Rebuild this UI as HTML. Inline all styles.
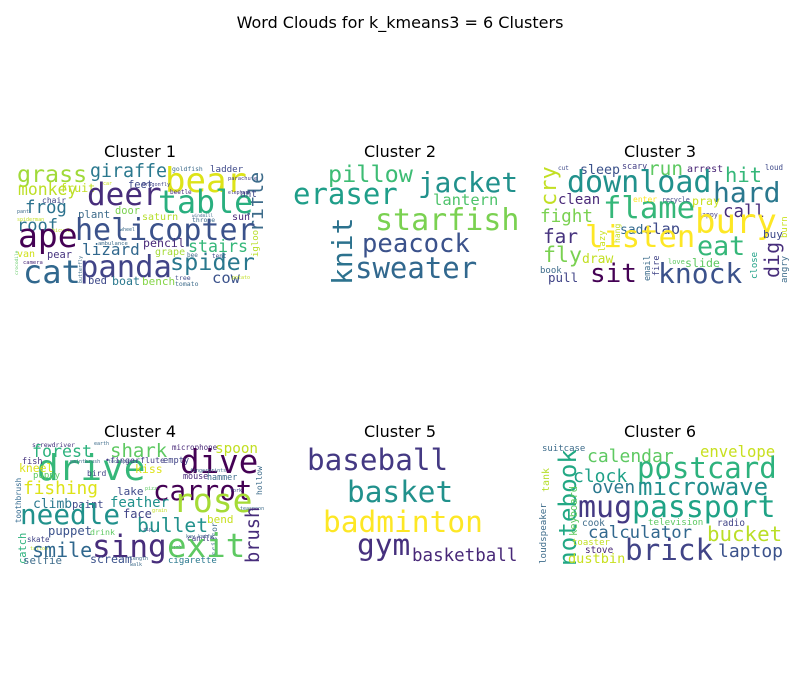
<!DOCTYPE html>
<html><head><meta charset="utf-8"><style>
html,body{margin:0;padding:0;background:#fff;}
svg{display:block;}
.t{font-family:"DejaVu Sans","Liberation Sans",sans-serif;font-size:16px;fill:#000;text-anchor:middle;}
.w text{font-family:"DejaVu Sans Mono","Liberation Mono",monospace;}
</style></head><body>
<svg width="800" height="700" viewBox="0 0 800 700">
<rect width="800" height="700" fill="#fff"/>
<text class="t" x="400" y="28">Word Clouds for k_kmeans3 = 6 Clusters</text>
<text class="t" x="140" y="157">Cluster 1</text>
<text class="t" x="400" y="157">Cluster 2</text>
<text class="t" x="660" y="157">Cluster 3</text>
<text class="t" x="140" y="437">Cluster 4</text>
<text class="t" x="400" y="437">Cluster 5</text>
<text class="t" x="660" y="437">Cluster 6</text>

<g class="w">
<text x="17" y="182" font-size="23.3" fill="#a0da39">grass</text>
<text x="90" y="177" font-size="18.3" fill="#2a788e">giraffe</text>
<text x="165" y="192" font-size="34" fill="#dde318">bear</text>
<text x="172" y="171" font-size="6.4" fill="#3e6c8b">goldfish</text>
<text x="210" y="172" font-size="9.2" fill="#3e4989">ladder</text>
<text x="228" y="180" font-size="5.4" fill="#433e85">parachute</text>
<text transform="translate(263,232) rotate(-90)" font-size="20" fill="#3e6c8b">rifle</text>
<text x="60" y="192" font-size="11.7" fill="#c2df23">fruit</text>
<text x="128" y="188" font-size="10.4" fill="#3e4989">feet</text>
<text x="142" y="186" font-size="5.2" fill="#414487">dragonfly</text>
<text x="103" y="185" font-size="5" fill="#c8e020">car</text>
<text x="18" y="195" font-size="16.4" fill="#bddf26">monkey</text>
<text x="87" y="205" font-size="31" fill="#472d7b">deer</text>
<text x="158" y="213" font-size="31.6" fill="#29af7f">table</text>
<text x="240" y="197" font-size="9.4" fill="#3e4989">ant</text>
<text x="170" y="194" font-size="6" fill="#482878">beetle</text>
<text x="228" y="194" font-size="4.8" fill="#433e85">elephant</text>
<text x="42" y="203" font-size="8" fill="#414487">chair</text>
<text x="25" y="213" font-size="17.4" fill="#2c728e">frog</text>
<text x="78" y="218" font-size="10.7" fill="#3e6c8b">plant</text>
<text x="115" y="214" font-size="10.4" fill="#7ad151">door</text>
<text x="142" y="220" font-size="10" fill="#b5de2b">saturn</text>
<text x="17" y="213" font-size="5" fill="#3e6c8b">pant</text>
<text x="17" y="231" font-size="17" fill="#2c728e">roof</text>
<text x="17" y="221" font-size="5" fill="#c2df23">spiderman</text>
<text x="192" y="217" font-size="4.4" fill="#3e6c8b">windmill</text>
<text x="232" y="220" font-size="10" fill="#482878">sun</text>
<text x="192" y="222" font-size="6.4" fill="#3e6c8b">throne</text>
<text x="75" y="240" font-size="30" fill="#3b528b">helicopter</text>
<text x="52" y="232" font-size="5" fill="#c8e020">bicycle</text>
<text x="120" y="231" font-size="5" fill="#3e6c8b">wheel</text>
<text x="18" y="247" font-size="33" fill="#440154">ape</text>
<text transform="translate(258,257) rotate(-90)" font-size="9" fill="#b8de29">igloo</text>
<text x="98" y="245" font-size="5.5" fill="#3e6c8b">ambulance</text>
<text x="143" y="247" font-size="11.6" fill="#482878">pencil</text>
<text x="82" y="255" font-size="16" fill="#31688e">lizard</text>
<text x="188" y="252" font-size="16.6" fill="#35b779">stairs</text>
<text x="155" y="255" font-size="10" fill="#a5db36">grape</text>
<text x="17" y="257" font-size="10" fill="#d0e11c">van</text>
<text x="47" y="258" font-size="10.4" fill="#46337e">pear</text>
<text x="187" y="257" font-size="6" fill="#3e6c8b">bee</text>
<text x="212" y="258" font-size="6" fill="#3e4989">tent</text>
<text x="23" y="264" font-size="5.5" fill="#482878">camera</text>
<text transform="translate(18,275) rotate(-90)" font-size="4.5" fill="#5ec962">crocodile</text>
<text transform="translate(82,283) rotate(-90)" font-size="5" fill="#3e6c8b">butterfly</text>
<text x="23" y="283" font-size="32" fill="#31688e">cat</text>
<text x="80" y="277" font-size="30.5" fill="#414487">panda</text>
<text x="170" y="270" font-size="23.5" fill="#2a788e">spider</text>
<text x="88" y="284" font-size="10.5" fill="#3e4989">bed</text>
<text x="112" y="285" font-size="11.6" fill="#2a788e">boat</text>
<text x="142" y="285" font-size="11" fill="#86d549">bench</text>
<text x="212" y="283" font-size="15.5" fill="#3b528b">cow</text>
<text x="175" y="280" font-size="6.5" fill="#3e4989">tree</text>
<text x="175" y="286" font-size="6.5" fill="#3e6c8b">tomato</text>
<text x="232" y="279" font-size="5" fill="#c2df23">potato</text>
</g>

<g class="w">
<text x="328" y="182" font-size="23.5" fill="#3dbc74">pillow</text>
<text x="418" y="192" font-size="27.7" fill="#21918c">jacket</text>
<text x="293" y="204" font-size="29" fill="#1f9e89">eraser</text>
<text x="433" y="205" font-size="15.5" fill="#4ec36b">lantern</text>
<text x="375" y="230" font-size="30" fill="#7ad151">starfish</text>
<text transform="translate(352,285) rotate(-90)" font-size="28" fill="#2c728e">knit</text>
<text x="362" y="252" font-size="25.6" fill="#3b528b">peacock</text>
<text x="355" y="278" font-size="29" fill="#31688e">sweater</text>
</g>

<g class="w">
<text x="558" y="170" font-size="6" fill="#3e4989">cut</text>
<text transform="translate(556,206) rotate(-90)" font-size="22" fill="#c2df23">cry</text>
<text x="580" y="174" font-size="13.3" fill="#3b528b">sleep</text>
<text x="622" y="169" font-size="8.4" fill="#433e85">scary</text>
<text x="648" y="175" font-size="19.4" fill="#5ec962">run</text>
<text x="687" y="172" font-size="10" fill="#482475">arrest</text>
<text x="765" y="170" font-size="7.5" fill="#3e4989">loud</text>
<text x="567" y="192" font-size="30" fill="#21918c">download</text>
<text x="725" y="182" font-size="20.5" fill="#35b779">hit</text>
<text x="713" y="202" font-size="28" fill="#2a788e">hard</text>
<text x="558" y="204" font-size="14" fill="#482878">clean</text>
<text x="603" y="218" font-size="30.6" fill="#35b779">flame</text>
<text x="633" y="202" font-size="8" fill="#fde725">enter</text>
<text x="662" y="202" font-size="6.6" fill="#3e4989">recycle</text>
<text x="692" y="205" font-size="11.6" fill="#c8e020">pray</text>
<text x="723" y="217" font-size="17.4" fill="#472d7b">call</text>
<text x="540" y="222" font-size="17.6" fill="#7ad151">fight</text>
<text x="698" y="217" font-size="6.6" fill="#433e85">happy</text>
<text x="695" y="233" font-size="34" fill="#fde725">bury</text>
<text x="543" y="243" font-size="19.4" fill="#46327e">far</text>
<text x="620" y="234" font-size="13" fill="#31688e">sad</text>
<text x="643" y="234" font-size="15.4" fill="#3e4a89">clap</text>
<text transform="translate(620,243) rotate(-90)" font-size="8" fill="#c2df23">hang</text>
<text transform="translate(605,252) rotate(-90)" font-size="9" fill="#c8e020">lazy</text>
<text transform="translate(787,238) rotate(-90)" font-size="9" fill="#cae11f">burn</text>
<text x="585" y="247" font-size="30.5" fill="#fde725">listen</text>
<text x="697" y="255" font-size="26.7" fill="#35b779">eat</text>
<text x="763" y="238" font-size="11" fill="#3e4989">buy</text>
<text x="543" y="262" font-size="21.6" fill="#7ad151">fly</text>
<text x="582" y="263" font-size="13" fill="#c2df23">draw</text>
<text transform="translate(779,278) rotate(-90)" font-size="20" fill="#472d7b">dig</text>
<text x="590" y="282" font-size="26" fill="#440154">sit</text>
<text transform="translate(650,281) rotate(-90)" font-size="8.5" fill="#3e6c8b">email</text>
<text transform="translate(659,276) rotate(-90)" font-size="8.5" fill="#414487">fire</text>
<text x="668" y="264" font-size="7" fill="#5ec962">love</text>
<text x="685" y="267" font-size="11.6" fill="#5ec962">slide</text>
<text x="658" y="283" font-size="28" fill="#3b528b">knock</text>
<text transform="translate(757,279) rotate(-90)" font-size="9" fill="#1fa187">close</text>
<text transform="translate(787,283) rotate(-90)" font-size="9" fill="#3e6c8b">angry</text>
<text x="540" y="273" font-size="9" fill="#3e6c8b">book</text>
<text x="548" y="282" font-size="12.5" fill="#414487">pull</text>
</g>

<g class="w">
<text x="32" y="447" font-size="6.5" fill="#46337e">screwdriver</text>
<text x="32" y="457" font-size="16.6" fill="#2db27d">forest</text>
<text x="110" y="457" font-size="19" fill="#5ec962">shark</text>
<text x="94" y="445" font-size="5" fill="#3e6c8b">earth</text>
<text x="172" y="450" font-size="7.5" fill="#482878">microphone</text>
<text x="215" y="453" font-size="14.3" fill="#c2df23">spoon</text>
<text x="37" y="480" font-size="36" fill="#35b779">drive</text>
<text x="180" y="473" font-size="32.5" fill="#440154">dive</text>
<text x="22" y="464" font-size="8.5" fill="#46337e">fish</text>
<text x="19" y="472" font-size="11.4" fill="#dde318">kneel</text>
<text x="70" y="463" font-size="5" fill="#3e6c8b">paintbrush</text>
<text x="108" y="463" font-size="5" fill="#3e6c8b">toothpaste</text>
<text x="105" y="463" font-size="8.3" fill="#433e85">•fingerflute</text>
<text x="163" y="463" font-size="8.7" fill="#414487">empty</text>
<text x="135" y="473" font-size="11.5" fill="#dde318">kiss</text>
<text x="33" y="478" font-size="9" fill="#5ec962">puppy</text>
<text x="87" y="476" font-size="8" fill="#414487">bird</text>
<text x="190" y="472" font-size="5" fill="#3e6c8b">fingerprints</text>
<text x="183" y="479" font-size="8.4" fill="#482878">mouse</text>
<text x="207" y="480" font-size="8.4" fill="#3e6c8b">hammer</text>
<text x="23" y="494" font-size="17.8" fill="#dde318">fishing</text>
<text x="117" y="495" font-size="11" fill="#3e4989">lake</text>
<text x="145" y="490" font-size="5" fill="#5ec962">pizza</text>
<text x="153" y="500" font-size="27.5" fill="#440154">carrot</text>
<text x="230" y="492" font-size="5" fill="#3e4989">fork</text>
<text transform="translate(262,495) rotate(-90)" font-size="8" fill="#3e6c8b">hollow</text>
<text transform="translate(21,523) rotate(-90)" font-size="7.5" fill="#31688e">toothbrush</text>
<text x="33" y="508" font-size="13" fill="#2a788e">climb</text>
<text x="72" y="508" font-size="10.5" fill="#3e4989">paint</text>
<text x="110" y="507" font-size="14" fill="#21918c">feather</text>
<text x="173" y="512" font-size="33" fill="#a5db36">rose</text>
<text x="240" y="510" font-size="5" fill="#3e6c8b">teaspoon</text>
<text x="20" y="524" font-size="27.7" fill="#21918c">needle</text>
<text x="123" y="518" font-size="12" fill="#414487">face</text>
<text x="152" y="512" font-size="5" fill="#c2df23">grain</text>
<text x="207" y="523" font-size="11" fill="#c8e020">bend</text>
<text x="137" y="532" font-size="19.7" fill="#21918c">bullet</text>
<text transform="translate(259,563) rotate(-90)" font-size="18.7" fill="#472d7b">brush</text>
<text transform="translate(26,564) rotate(-90)" font-size="10.4" fill="#2db27d">catch</text>
<text x="48" y="535" font-size="12.2" fill="#3b528b">puppet</text>
<text x="90" y="535" font-size="8.3" fill="#5ec962">drink</text>
<text x="143" y="531" font-size="5" fill="#3e4989">zip</text>
<text x="186" y="538" font-size="5" fill="#3e6c8b">key</text>
<text x="198" y="538" font-size="5" fill="#3e6c8b">knife</text>
<text x="27" y="542" font-size="7.5" fill="#414487">skate</text>
<text x="187" y="541" font-size="7.6" fill="#433e85">candle</text>
<text transform="translate(217,556) rotate(-90)" font-size="8" fill="#3e6c8b">scissor</text>
<text x="170" y="549" font-size="5" fill="#3e6c8b">comb</text>
<text x="30" y="550" font-size="5" fill="#c2df23">tattoo</text>
<text x="32" y="557" font-size="20" fill="#31688e">smile</text>
<text x="92" y="557" font-size="31" fill="#472d7b">sing</text>
<text x="167" y="557" font-size="32.5" fill="#5ec962">exit</text>
<text x="130" y="560" font-size="5" fill="#3e6c8b">length</text>
<text x="130" y="566" font-size="5" fill="#3e6c8b">walk</text>
<text x="90" y="563" font-size="11.6" fill="#3b528b">scream</text>
<text x="23" y="564" font-size="10.8" fill="#3e6c8b">selfie</text>
<text x="168" y="563" font-size="9" fill="#2a788e">cigarette</text>
</g>

<g class="w">
<text x="307" y="470" font-size="29.3" fill="#443983">baseball</text>
<text x="347" y="502" font-size="29.4" fill="#21918c">basket</text>
<text x="323" y="532" font-size="29.5" fill="#fde725">badminton</text>
<text x="357" y="555" font-size="29.5" fill="#46307e">gym</text>
<text x="412" y="561" font-size="17.5" fill="#482878">basketball</text>
</g>

<g class="w">
<text x="542" y="451" font-size="9" fill="#3e6c8b">suitcase</text>
<text x="587" y="462" font-size="18" fill="#5ec962">calendar</text>
<text x="700" y="457" font-size="15.6" fill="#c8e020">envelope</text>
<text transform="translate(576,566) rotate(-90)" font-size="24.3" fill="#22a884">notebook</text>
<text transform="translate(549,492) rotate(-90)" font-size="10" fill="#b5de2b">tank</text>
<text x="637" y="478" font-size="29" fill="#2db27d">postcard</text>
<text x="573" y="482" font-size="18" fill="#1fa187">clock</text>
<text x="592" y="493" font-size="17.9" fill="#2a788e">oven</text>
<text x="638" y="495" font-size="24" fill="#218f8d">microwave</text>
<text transform="translate(577,536) rotate(-90)" font-size="10.4" fill="#5ec962">keyboard</text>
<text transform="translate(546,564) rotate(-90)" font-size="9.2" fill="#3e6c8b">loudspeaker</text>
<text x="578" y="517" font-size="30" fill="#443983">mug</text>
<text x="632" y="517" font-size="29.8" fill="#20a386">passport</text>
<text x="582" y="526" font-size="9.5" fill="#3e6c8b">cook</text>
<text x="648" y="525" font-size="9.2" fill="#5ec962">television</text>
<text x="717" y="526" font-size="9.3" fill="#414487">radio</text>
<text x="588" y="538" font-size="17.3" fill="#31688e">calculator</text>
<text x="707" y="541" font-size="20.8" fill="#bade28">bucket</text>
<text x="572" y="545" font-size="9" fill="#c2df23">toaster</text>
<text x="585" y="553" font-size="9.4" fill="#482878">stove</text>
<text x="625" y="560" font-size="29.3" fill="#414487">brick</text>
<text x="718" y="557" font-size="18" fill="#3b528b">laptop</text>
<text x="568" y="563" font-size="13.6" fill="#c8e020">dustbin</text>
</g>
</svg>
</body></html>
